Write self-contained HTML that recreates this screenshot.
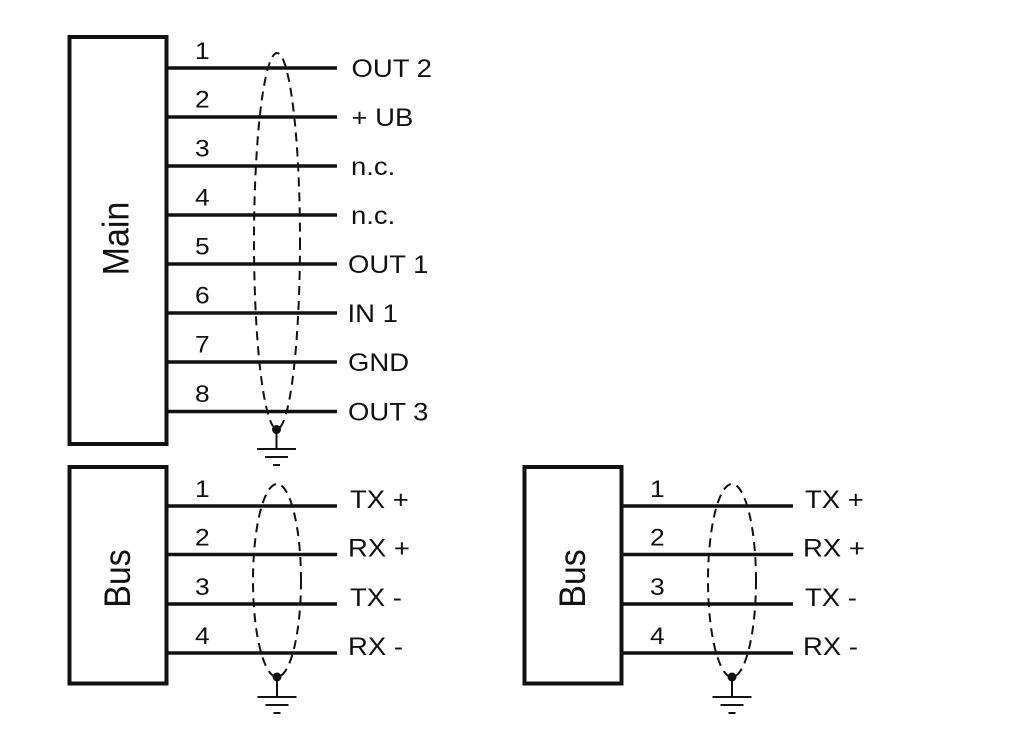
<!DOCTYPE html>
<html><head><meta charset="utf-8"><style>
html,body{margin:0;padding:0;background:#fff;}
svg{display:block;}
text{font-family:"Liberation Sans",Arial,sans-serif;fill:#111;}
</style></head><body>
<svg width="1024" height="751" viewBox="0 0 1024 751" xmlns="http://www.w3.org/2000/svg">
<rect width="1024" height="751" fill="#fff"/>
<g stroke="#111" fill="none">
  <!-- boxes -->
  <rect x="69.5" y="37" width="97" height="407" stroke-width="4"/>
  <rect x="69.5" y="467" width="97" height="216.5" stroke-width="4"/>
  <rect x="524.5" y="467" width="97" height="216.5" stroke-width="4"/>
  <!-- main wires -->
  <g stroke-width="3.5">
    <line x1="167" y1="68" x2="337" y2="68"/>
    <line x1="167" y1="117" x2="337" y2="117"/>
    <line x1="167" y1="166" x2="337" y2="166"/>
    <line x1="167" y1="215" x2="337" y2="215"/>
    <line x1="167" y1="264" x2="337" y2="264"/>
    <line x1="167" y1="313" x2="337" y2="313"/>
    <line x1="167" y1="362" x2="337" y2="362"/>
    <line x1="167" y1="411.5" x2="337" y2="411.5"/>
    <!-- bus 1 -->
    <line x1="167" y1="506" x2="337" y2="506"/>
    <line x1="167" y1="554.5" x2="337" y2="554.5"/>
    <line x1="167" y1="604" x2="337" y2="604"/>
    <line x1="167" y1="653" x2="337" y2="653"/>
    <!-- bus 2 -->
    <line x1="622" y1="506" x2="793" y2="506"/>
    <line x1="622" y1="554.5" x2="793" y2="554.5"/>
    <line x1="622" y1="604" x2="793" y2="604"/>
    <line x1="622" y1="653" x2="793" y2="653"/>
  </g>
  <!-- shields -->
  <g stroke-width="2" stroke-dasharray="9 6">
    <ellipse cx="277" cy="241" rx="23" ry="188"/>
    <ellipse cx="277" cy="580.5" rx="24" ry="96.5"/>
    <ellipse cx="732" cy="580.5" rx="24" ry="96.5"/>
  </g>
  <!-- grounds -->
  <g stroke-width="2">
    <line x1="276.5" y1="429" x2="276.5" y2="449"/>
    <line x1="257" y1="449" x2="296" y2="449"/>
    <line x1="265" y1="457" x2="288" y2="457"/>
    <line x1="273" y1="465" x2="280" y2="465"/>

    <line x1="277" y1="677" x2="277" y2="697"/>
    <line x1="257.5" y1="697" x2="296.5" y2="697"/>
    <line x1="265.5" y1="705" x2="288.5" y2="705"/>
    <line x1="273.5" y1="713" x2="280.5" y2="713"/>

    <line x1="732" y1="677" x2="732" y2="697"/>
    <line x1="712.5" y1="697" x2="751.5" y2="697"/>
    <line x1="720.5" y1="705" x2="743.5" y2="705"/>
    <line x1="728.5" y1="713" x2="735.5" y2="713"/>
  </g>
</g>
<g fill="#111">
  <circle cx="276.5" cy="429.5" r="4.5"/>
  <circle cx="277" cy="677" r="4.5"/>
  <circle cx="732" cy="677" r="4.5"/>
</g>

<!-- box titles -->
<text font-size="34" text-anchor="middle" transform="translate(128.5,238.5) scale(1.1,1) rotate(-90)">Main</text>
<text font-size="34" text-anchor="middle" transform="translate(130,578.5) scale(1.1,1) rotate(-90)">Bus</text>
<text font-size="34" text-anchor="middle" transform="translate(585,578.5) scale(1.1,1) rotate(-90)">Bus</text>

<!-- main pin numbers -->
<g font-size="24">
  <text transform="translate(195,59) scale(1.1,1)">1</text>
  <text transform="translate(195,107.5) scale(1.1,1)">2</text>
  <text transform="translate(195,156.5) scale(1.1,1)">3</text>
  <text transform="translate(195,205.5) scale(1.1,1)">4</text>
  <text transform="translate(195,254.5) scale(1.1,1)">5</text>
  <text transform="translate(195,303.5) scale(1.1,1)">6</text>
  <text transform="translate(195,352.5) scale(1.1,1)">7</text>
  <text transform="translate(195,402) scale(1.1,1)">8</text>

  <text transform="translate(195,497) scale(1.1,1)">1</text>
  <text transform="translate(195,545.5) scale(1.1,1)">2</text>
  <text transform="translate(195,595) scale(1.1,1)">3</text>
  <text transform="translate(195,644) scale(1.1,1)">4</text>

  <text transform="translate(650,497) scale(1.1,1)">1</text>
  <text transform="translate(650,545.5) scale(1.1,1)">2</text>
  <text transform="translate(650,595) scale(1.1,1)">3</text>
  <text transform="translate(650,644) scale(1.1,1)">4</text>
</g>

<!-- main labels -->
<g font-size="25">
  <text transform="translate(351.5,77) scale(1.1,1)">OUT 2</text>
  <text transform="translate(351.5,126) scale(1.1,1)">+ UB</text>
  <text transform="translate(351,175) scale(1.1,1)">n.c.</text>
  <text transform="translate(351,224) scale(1.1,1)">n.c.</text>
  <text transform="translate(348,273) scale(1.1,1)">OUT 1</text>
  <text transform="translate(347.5,322) scale(1.1,1)">IN 1</text>
  <text transform="translate(348,371) scale(1.1,1)">GND</text>
  <text transform="translate(348,420.5) scale(1.1,1)">OUT 3</text>
</g>

<!-- bus labels -->
<g font-size="25">
  <text transform="translate(350,508) scale(1.1,1)">TX +</text>
  <text transform="translate(348,556.5) scale(1.1,1)">RX +</text>
  <text transform="translate(350,606) scale(1.1,1)">TX -</text>
  <text transform="translate(348,655) scale(1.1,1)">RX -</text>

  <text transform="translate(805,508) scale(1.1,1)">TX +</text>
  <text transform="translate(803,556.5) scale(1.1,1)">RX +</text>
  <text transform="translate(805,606) scale(1.1,1)">TX -</text>
  <text transform="translate(803,655) scale(1.1,1)">RX -</text>
</g>
</svg>
</body></html>
